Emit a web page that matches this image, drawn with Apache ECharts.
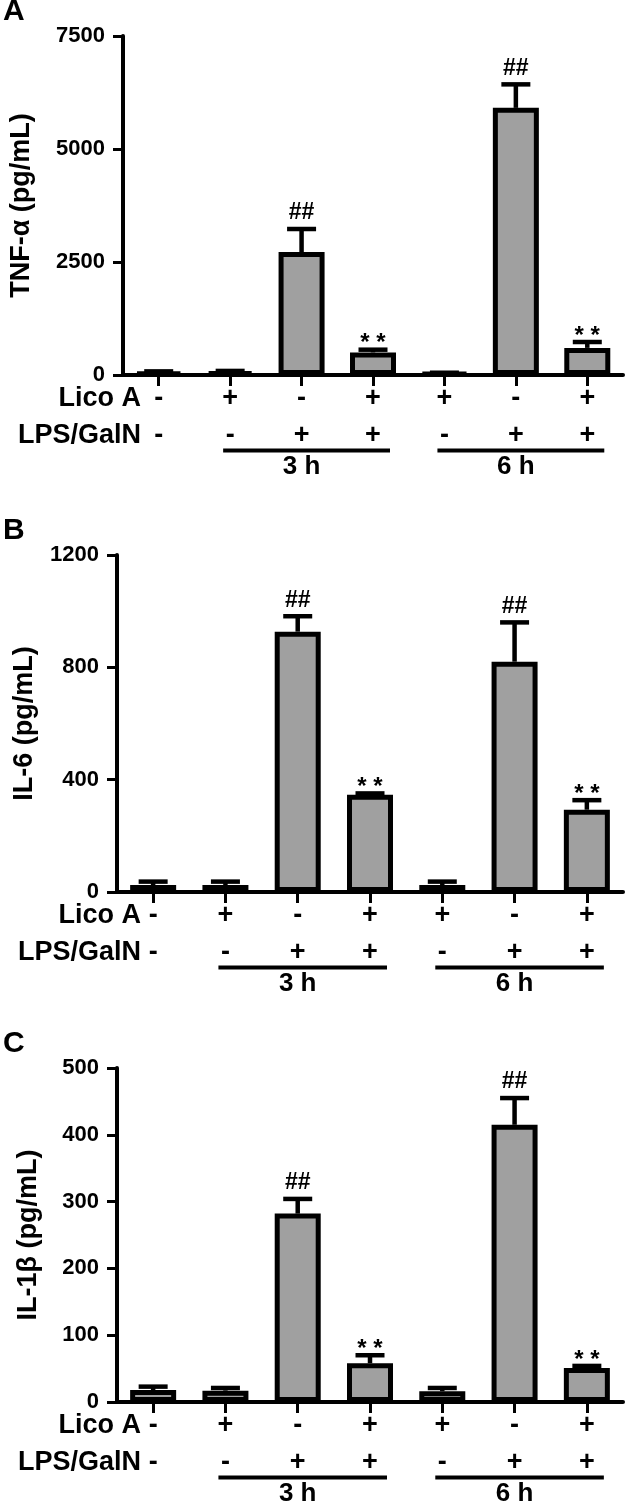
<!DOCTYPE html>
<html><head><meta charset="utf-8">
<script src="https://cdn.jsdelivr.net/npm/echarts@6/dist/echarts.min.js"></script>
<style>html,body{margin:0;padding:0;background:#fff}#c{width:630px;height:1510px}</style>
</head><body><div id="c"></div>
<script>
// ---------- data ----------
const categories = ['G1', 'G2', 'G3', 'G4', 'G5', 'G6', 'G7'];
const licoA   = ['-', '+', '-', '+', '+', '-', '+'];
const lpsGalN = ['-', '-', '+', '+', '-', '+', '+'];
const marks   = ['', '', '##', '* *', '', '##', '* *'];

const tnfValues  = [55, 65, 2720, 500, 40, 5910, 600];
const tnfErrors  = [25, 25, 510, 60, 10, 520, 130];
const il6Values  = [25, 25, 927, 346, 25, 820, 293];
const il6Errors  = [12, 12, 55, 5, 12, 140, 34];
const il1bValues = [18, 17, 282, 58, 16, 415, 51];
const il1bErrors = [5, 4, 22, 12, 5, 40, 3];

const tnfTicks  = {max: 7500, interval: 2500};
const il6Ticks  = {max: 1200, interval: 400};
const il1bTicks = {max: 500, interval: 100};

const timeGroups = [
  {label: '3 h', from: 1, to: 3, mid: 2},
  {label: '6 h', from: 4, to: 6, mid: 5}
];

// ---------- layout ----------
const FONT = "'Liberation Sans', Arial, sans-serif";
const panels = [
  {letter: 'A', name: 'TNF-α (pg/mL)', values: tnfValues, errors: tnfErrors, ticks: tnfTicks, top: 36, height: 339, nameGap: 88},
  {letter: 'B', name: 'IL-6 (pg/mL)', values: il6Values, errors: il6Errors, ticks: il6Ticks, top: 555, height: 337, nameGap: 79},
  {letter: 'C', name: 'IL-1β (pg/mL)', values: il1bValues, errors: il1bErrors, ticks: il1bTicks, top: 1068, height: 334, nameGap: 75}
];

const grids = [], xAxes = [], yAxes = [], series = [];
panels.forEach((p, g) => {
  grids.push({left: 117, width: 506, top: p.top, height: p.height, containLabel: false});
  xAxes.push({
    type: 'category', gridIndex: g, data: categories,
    axisLine: {show: true, lineStyle: {color: '#000', width: 4}},
    axisTick: {show: true, alignWithLabel: true, length: 11, lineStyle: {color: '#000', width: 3}},
    axisLabel: {show: false}, splitLine: {show: false}
  });
  yAxes.push({
    type: 'value', gridIndex: g, min: 0, max: p.ticks.max, interval: p.ticks.interval,
    axisLine: {show: true, lineStyle: {color: '#000', width: 4}},
    axisTick: {show: true, length: 10, lineStyle: {color: '#000', width: 3}},
    splitLine: {show: false},
    axisLabel: {color: '#000', fontSize: 22, fontWeight: 'bold', fontFamily: FONT, margin: 18,
                formatter: function (v) { return String(v); }},
    name: p.name, nameLocation: 'middle', nameGap: p.nameGap,
    nameTextStyle: {color: '#000', fontSize: 27, fontWeight: 'bold', fontFamily: FONT}
  });
  series.push({
    type: 'bar', xAxisIndex: g, yAxisIndex: g, data: p.values, barWidth: 46, z: 2,
    itemStyle: {color: '#a0a0a0', borderColor: '#000', borderWidth: 5},
    silent: true
  });
  const errs = p.errors;
  series.push({
    type: 'custom', xAxisIndex: g, yAxisIndex: g, z: 3, silent: true,
    data: p.values.map((v, i) => [i, v, v + errs[i]]),
    renderItem: function (params, api) {
      const i = api.value(0);
      const base = api.coord([i, api.value(1)]);
      const hi = api.coord([i, api.value(2)]);
      const capW = 29;
      const children = [
        {type: 'line', shape: {x1: base[0], y1: base[1], x2: hi[0], y2: hi[1]}, style: {stroke: '#000', lineWidth: 4.5}},
        {type: 'line', shape: {x1: hi[0] - capW / 2, y1: hi[1], x2: hi[0] + capW / 2, y2: hi[1]}, style: {stroke: '#000', lineWidth: 4.5}}
      ];
      const m = marks[i];
      if (m) {
        const isHash = m.indexOf('#') >= 0;
        children.push({
          type: 'text',
          style: {
            text: m, x: hi[0], y: hi[1] - (isHash ? 16 : 6),
            align: 'center', verticalAlign: 'middle', textAlign: 'center', textVerticalAlign: 'middle',
            font: (isHash ? 'bold 23px ' : 'bold 24px ') + FONT, fill: '#000'
          }
        });
      }
      return {type: 'group', children: children};
    }
  });
});

const chart = echarts.init(document.getElementById('c'), null, {renderer: 'canvas'});
chart.setOption({
  animation: false,
  backgroundColor: '#fff',
  grid: grids, xAxis: xAxes, yAxis: yAxes, series: series
});

// ---------- annotations under axes ----------
function txt(s, x, y, size, align) {
  return {
    type: 'text', x: x, y: y, silent: true,
    style: {text: s, font: 'bold ' + size + 'px ' + FONT, fill: '#000',
            textAlign: align || 'center', textVerticalAlign: 'middle',
            align: align || 'center', verticalAlign: 'middle'}
  };
}
const graphics = [];
panels.forEach((p, g) => {
  const xs = categories.map((c, i) => chart.convertToPixel({gridIndex: g}, [i, 0])[0]);
  const y0 = chart.convertToPixel({gridIndex: g}, [0, 0])[1];
  graphics.push(txt(p.letter, 3, p.top - 24, 30, 'left'));
  graphics.push(txt('Lico A', 141, y0 + 24, 27, 'right'));
  graphics.push(txt('LPS/GalN', 141, y0 + 61, 27, 'right'));
  categories.forEach((c, i) => {
    graphics.push(txt(licoA[i], xs[i], y0 + 24, 27));
    graphics.push(txt(lpsGalN[i], xs[i], y0 + 61, 27));
  });
  timeGroups.forEach(t => {
    graphics.push({
      type: 'line', silent: true,
      shape: {x1: xs[t.from] - 7, y1: y0 + 75.5, x2: xs[t.to] + 17, y2: y0 + 75.5},
      style: {stroke: '#000', lineWidth: 4}
    });
    graphics.push(txt(t.label, xs[t.mid], y0 + 92, 26));
  });
});
chart.setOption({graphic: graphics});
</script>
</body></html>
